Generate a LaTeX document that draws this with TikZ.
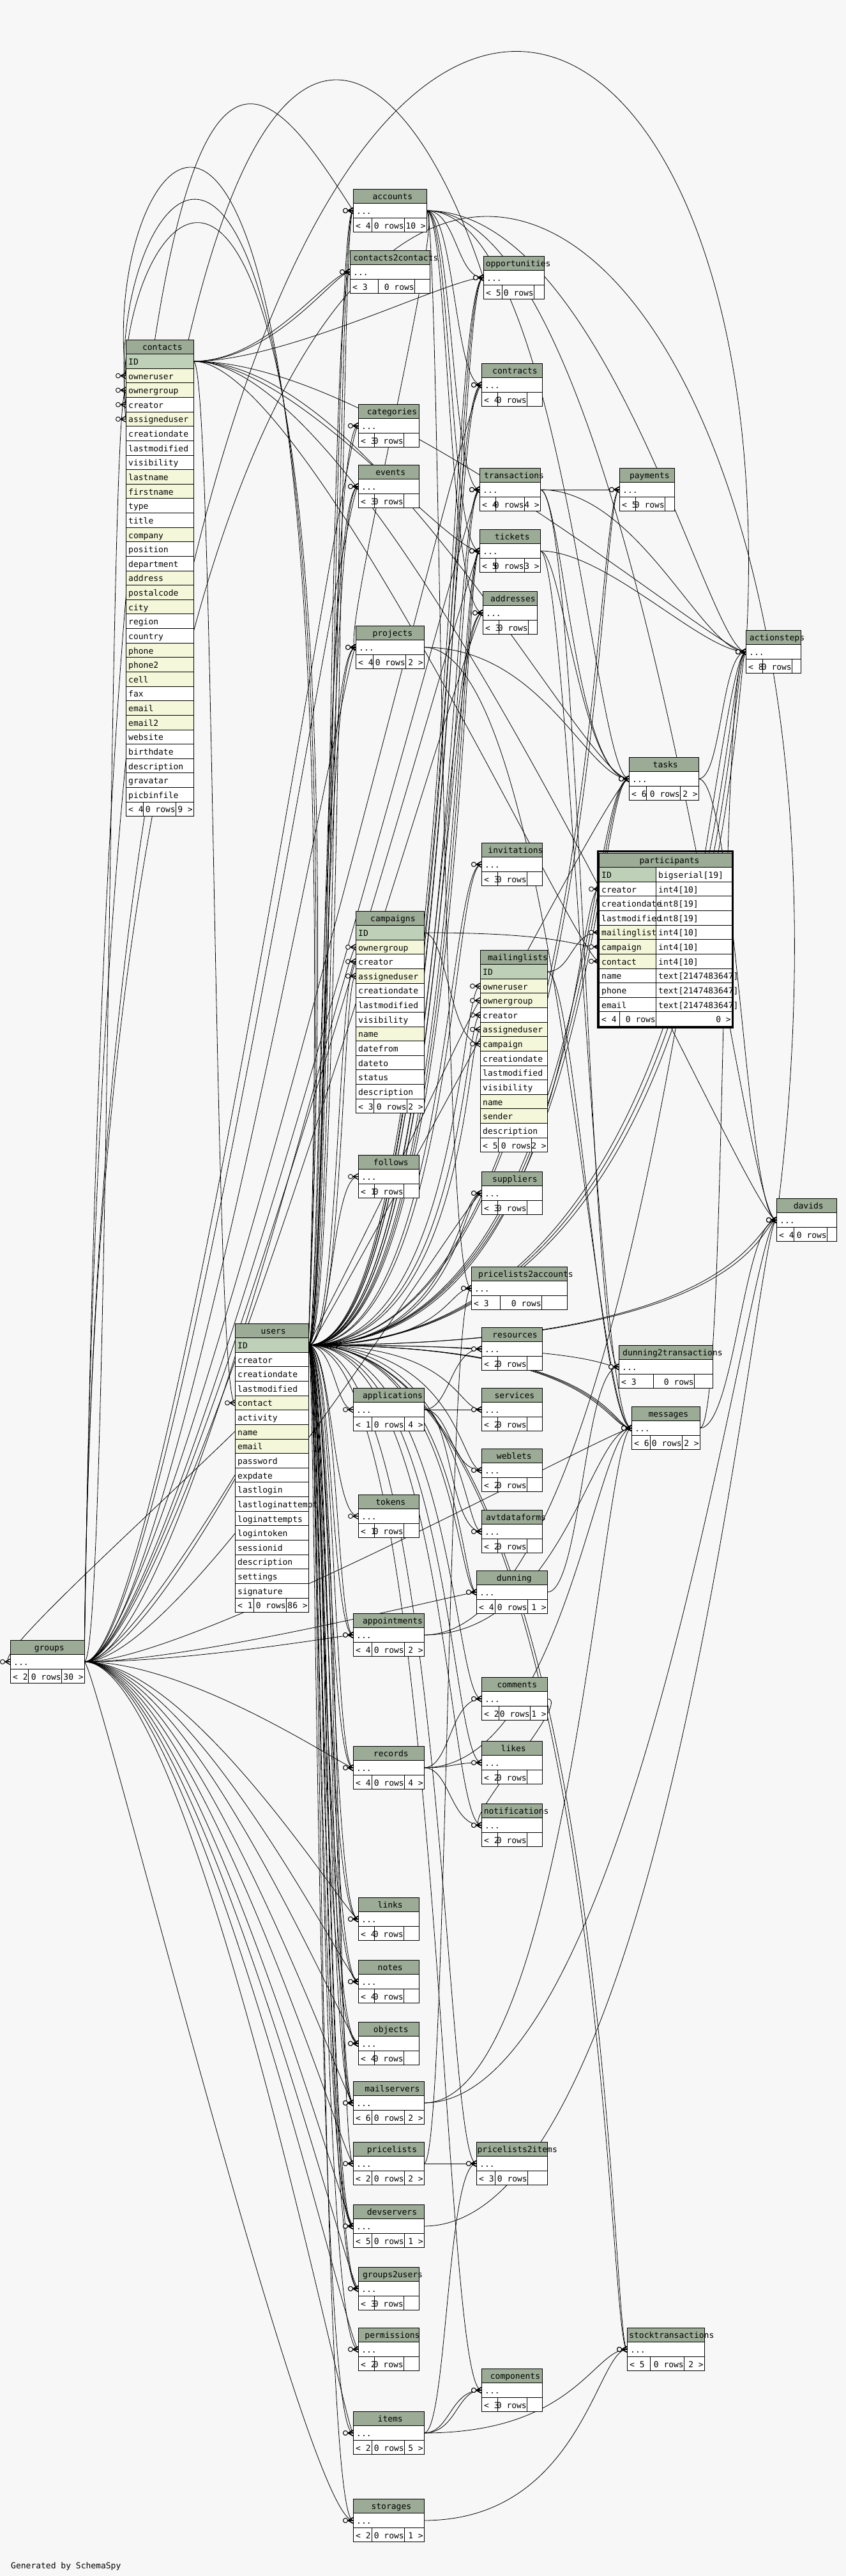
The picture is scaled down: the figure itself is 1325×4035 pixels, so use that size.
\documentclass[tikz,border=0pt]{standalone}
\usepackage{fontspec}
\setmonofont{DejaVu Sans Mono}
\usepackage{tikz}

\definecolor{hdr}{HTML}{9BAB96}
\definecolor{pkey}{HTML}{BED1B8}
\definecolor{idx}{HTML}{F4F7DA}
\definecolor{bg}{HTML}{F7F7F7}

\pgfdeclarelayer{back}
\pgfdeclarelayer{wires}
\pgfsetlayers{back,wires,main}

\newcommand{\tabfont}{\ttfamily\fontsize{13}{15}\selectfont}

% title row
\newcommand{\tabhead}[5]{%
  \def\tabw{#4}%
  \node[cellbox,fill=hdr,minimum width=#4] (#1-t) at (#2,#3) {};
  \node[celltxt,anchor=base] (#1-tt) at ([yshift=-16.8pt]#1-t.north) {\makebox[0.86\width][l]{#5}};}

% column row below #1-#2
\newcommand{\colrow}[4]{%
  \node[cellbox,fill=#4,minimum width=\tabw] (#1-#3) at (#1-#2.south west) {};
  \node[celltxt] (#1-#3-l) at ([shift={(4pt,-16.8pt)}]#1-#3.north west) {#3};}

% footer: table, row above, left, right, splits
\newcommand{\tabfoot}[6]{%
  \pgfmathsetmacro\fwa{#5}\pgfmathsetmacro\fwb{#6-#5}\pgfmathsetmacro\fwc{\tabw-#6}%
  \node[cellbox,fill=white,minimum width=\fwa] (#1-f1) at (#2.south west) {};
  \node[cellbox,fill=white,minimum width=\fwb] (#1-f2) at (#1-f1.north east) {};
  \node[cellbox,fill=white,minimum width=\fwc] (#1-f3) at (#1-f2.north east) {};
  \node[celltxt] (#1-n1) at ([shift={(4pt,-16.8pt)}]#1-f1.north west) {#3};
  \node[celltxt,anchor=base east] (#1-n2) at ([shift={(0pt,-16.8pt)}]#1-f2.north east) {0 rows};
  \node[celltxt,anchor=base east] (#1-n3) at ([shift={(-1pt,-16.8pt)}]#1-f3.north east) {#4};}

% collapsed table: name, x, y, width, left, right, splits
\newcommand{\smalltab}[8]{%
  \tabhead{#1}{#2}{#3}{#4}{#1}%
  \node[cellbox,fill=white,minimum width=#4] (#1) at (#1-t.south west) {};
  \node[celltxt] (#1-l) at ([shift={(5pt,-16.8pt)}]#1.north west) {...};
  \tabfoot{#1}{#1}{#5}{#6}{#7}{#8}}

% participants row
\newcommand{\partrow}[4]{%
  \node[cellbox,fill=#4,minimum width=89] (participants-#2) at (#1.south west) {};
  \node[cellbox,fill=white,minimum width=119] (participants-#2-r) at (participants-#2.north east) {};
  \node[celltxt] (participants-#2-l) at ([shift={(4pt,-16.8pt)}]participants-#2.north west) {#2};
  \node[celltxt] (participants-#2-y) at ([shift={(4pt,-16.8pt)}]participants-#2-r.north west) {#3};}

% foreign keys
\newcommand{\fkedge}[4]{%
  \draw[fkline] (#1.east) .. controls (#3,0 |- #1.east) and (#4,0 |- #2.west) .. (#2.west);
  \pic at (#2.west) {fkend};}
\newcommand{\fkloop}[4]{%
  \draw[fkline] (#1.east) .. controls (#3) and (#4) .. (#2.west);
  \pic at (#2.west) {fkend};}

\begin{document}
\begin{tikzpicture}[x=1pt,y=-1pt,
  fkend/.pic={\draw[line width=1.3pt,line join=round] (0,-4.5) -- (-8,0) -- (0,4.5) (-8,0) -- (0,0);
              \draw[line width=0.9pt,fill=bg] (-12,0) circle[radius=3.5pt];}]
  \tikzstyle{cellbox}=[draw,line width=1pt,inner sep=0pt,outer sep=0pt,anchor=north west,minimum height=22.63]
  \tikzstyle{celltxt}=[font=\tabfont,inner sep=0pt,anchor=base west]
  \tikzstyle{fkline}=[line width=0.8pt]
  \useasboundingbox (0,0) rectangle (1325,4035);
  \begin{pgfonlayer}{back}
    \fill[bg] (0,0) rectangle (1325,4035);
  \end{pgfonlayer}

  % contacts
  \tabhead{contacts}{197}{532}{106}{contacts}
  \colrow{contacts}{t}{ID}{pkey}
  \colrow{contacts}{ID}{owneruser}{idx}
  \colrow{contacts}{owneruser}{ownergroup}{idx}
  \colrow{contacts}{ownergroup}{creator}{white}
  \colrow{contacts}{creator}{assigneduser}{idx}
  \colrow{contacts}{assigneduser}{creationdate}{white}
  \colrow{contacts}{creationdate}{lastmodified}{white}
  \colrow{contacts}{lastmodified}{visibility}{white}
  \colrow{contacts}{visibility}{lastname}{idx}
  \colrow{contacts}{lastname}{firstname}{idx}
  \colrow{contacts}{firstname}{type}{white}
  \colrow{contacts}{type}{title}{white}
  \colrow{contacts}{title}{company}{idx}
  \colrow{contacts}{company}{position}{white}
  \colrow{contacts}{position}{department}{white}
  \colrow{contacts}{department}{address}{idx}
  \colrow{contacts}{address}{postalcode}{idx}
  \colrow{contacts}{postalcode}{city}{idx}
  \colrow{contacts}{city}{region}{white}
  \colrow{contacts}{region}{country}{white}
  \colrow{contacts}{country}{phone}{idx}
  \colrow{contacts}{phone}{phone2}{idx}
  \colrow{contacts}{phone2}{cell}{idx}
  \colrow{contacts}{cell}{fax}{white}
  \colrow{contacts}{fax}{email}{idx}
  \colrow{contacts}{email}{email2}{idx}
  \colrow{contacts}{email2}{website}{white}
  \colrow{contacts}{website}{birthdate}{white}
  \colrow{contacts}{birthdate}{description}{white}
  \colrow{contacts}{description}{gravatar}{white}
  \colrow{contacts}{gravatar}{picbinfile}{white}
  \tabfoot{contacts}{contacts-picbinfile}{< 4}{9 >}{27}{78}

  % users
  \tabhead{users}{368}{2073}{115}{users}
  \colrow{users}{t}{ID}{pkey}
  \colrow{users}{ID}{creator}{white}
  \colrow{users}{creator}{creationdate}{white}
  \colrow{users}{creationdate}{lastmodified}{white}
  \colrow{users}{lastmodified}{contact}{idx}
  \colrow{users}{contact}{activity}{white}
  \colrow{users}{activity}{name}{idx}
  \colrow{users}{name}{email}{idx}
  \colrow{users}{email}{password}{white}
  \colrow{users}{password}{expdate}{white}
  \colrow{users}{expdate}{lastlogin}{white}
  \colrow{users}{lastlogin}{lastloginattempt}{white}
  \colrow{users}{lastloginattempt}{loginattempts}{white}
  \colrow{users}{loginattempts}{logintoken}{white}
  \colrow{users}{logintoken}{sessionid}{white}
  \colrow{users}{sessionid}{description}{white}
  \colrow{users}{description}{settings}{white}
  \colrow{users}{settings}{signature}{white}
  \tabfoot{users}{users-signature}{< 1}{86 >}{29}{80}

  % campaigns
  \tabhead{campaigns}{557}{1427}{107}{campaigns}
  \colrow{campaigns}{t}{ID}{pkey}
  \colrow{campaigns}{ID}{ownergroup}{idx}
  \colrow{campaigns}{ownergroup}{creator}{white}
  \colrow{campaigns}{creator}{assigneduser}{idx}
  \colrow{campaigns}{assigneduser}{creationdate}{white}
  \colrow{campaigns}{creationdate}{lastmodified}{white}
  \colrow{campaigns}{lastmodified}{visibility}{white}
  \colrow{campaigns}{visibility}{name}{idx}
  \colrow{campaigns}{name}{datefrom}{white}
  \colrow{campaigns}{datefrom}{dateto}{white}
  \colrow{campaigns}{dateto}{status}{white}
  \colrow{campaigns}{status}{description}{white}
  \tabfoot{campaigns}{campaigns-description}{< 3}{2 >}{28}{80}

  % mailinglists
  \tabhead{mailinglists}{752}{1488}{105}{mailinglists}
  \colrow{mailinglists}{t}{ID}{pkey}
  \colrow{mailinglists}{ID}{owneruser}{idx}
  \colrow{mailinglists}{owneruser}{ownergroup}{idx}
  \colrow{mailinglists}{ownergroup}{creator}{white}
  \colrow{mailinglists}{creator}{assigneduser}{idx}
  \colrow{mailinglists}{assigneduser}{campaign}{idx}
  \colrow{mailinglists}{campaign}{creationdate}{white}
  \colrow{mailinglists}{creationdate}{lastmodified}{white}
  \colrow{mailinglists}{lastmodified}{visibility}{white}
  \colrow{mailinglists}{visibility}{name}{idx}
  \colrow{mailinglists}{name}{sender}{idx}
  \colrow{mailinglists}{sender}{description}{white}
  \tabfoot{mailinglists}{mailinglists-description}{< 5}{2 >}{28}{80}

  % participants
  \tabhead{participants}{938}{1336}{208}{participants}
  \partrow{participants-t}{ID}{bigserial[19]}{pkey}
  \partrow{participants-ID}{creator}{int4[10]}{white}
  \partrow{participants-creator}{creationdate}{int8[19]}{white}
  \partrow{participants-creationdate}{lastmodified}{int8[19]}{white}
  \partrow{participants-lastmodified}{mailinglist}{int4[10]}{idx}
  \partrow{participants-mailinglist}{campaign}{int4[10]}{idx}
  \partrow{participants-campaign}{contact}{int4[10]}{idx}
  \partrow{participants-contact}{name}{text[2147483647]}{white}
  \partrow{participants-name}{phone}{text[2147483647]}{white}
  \partrow{participants-phone}{email}{text[2147483647]}{white}
  \tabfoot{participants}{participants-email}{< 4}{0 >}{32}{89}
  \draw[line width=3pt] (936.5,1333.5) rectangle (1147.5,1609);

  % collapsed tables
  \smalltab{accounts}{553}{296}{115}{< 4}{10 >}{29}{80}
  \smalltab{contacts2contacts}{548}{392}{125}{< 3}{}{44}{101}
  \smalltab{opportunities}{757}{401}{95}{< 5}{}{29}{79}
  \smalltab{contracts}{754}{569}{95}{< 4}{}{25}{71}
  \smalltab{categories}{561}{633}{95}{< 3}{}{25}{71}
  \smalltab{events}{561}{728}{95}{< 3}{}{25}{71}
  \smalltab{transactions}{751}{733}{95}{< 4}{4 >}{25}{70}
  \smalltab{payments}{970}{733}{86}{< 5}{}{25}{71}
  \smalltab{tickets}{751}{829}{95}{< 5}{3 >}{25}{70}
  \smalltab{addresses}{756}{926}{85}{< 3}{}{25}{71}
  \smalltab{actionsteps}{1168}{987}{86}{< 8}{}{26}{72}
  \smalltab{projects}{557}{980}{107}{< 4}{2 >}{27}{78}
  \smalltab{tasks}{985}{1186}{109}{< 6}{2 >}{27}{80}
  \smalltab{invitations}{754}{1320}{95}{< 3}{}{25}{71}
  \smalltab{follows}{561}{1809}{95}{< 1}{}{25}{71}
  \smalltab{suppliers}{754}{1835}{95}{< 3}{}{25}{71}
  \smalltab{davids}{1216}{1877}{94}{< 4}{}{27}{79}
  \smalltab{pricelists2accounts}{738}{1984}{150}{< 3}{}{45}{110}
  \smalltab{resources}{754}{2079}{95}{< 2}{}{25}{71}
  \smalltab{dunning2transactions}{969}{2107}{147}{< 3}{}{54}{118}
  \smalltab{applications}{553}{2174}{111}{< 1}{4 >}{29}{80}
  \smalltab{services}{754}{2174}{95}{< 2}{}{25}{71}
  \smalltab{messages}{989}{2203}{107}{< 6}{2 >}{29}{79}
  \smalltab{weblets}{754}{2269}{95}{< 2}{}{25}{71}
  \smalltab{tokens}{561}{2341}{95}{< 1}{}{25}{71}
  \smalltab{avtdataforms}{754}{2365}{95}{< 2}{}{25}{71}
  \smalltab{dunning}{746}{2460}{111}{< 4}{1 >}{29}{80}
  \smalltab{appointments}{553}{2527}{111}{< 4}{2 >}{29}{80}
  \smalltab{groups}{16}{2569}{116}{< 2}{30 >}{28}{80}
  \smalltab{comments}{754}{2627}{103}{< 2}{1 >}{27}{76}
  \smalltab{likes}{754}{2727}{95}{< 2}{}{25}{71}
  \smalltab{records}{553}{2735}{111}{< 4}{4 >}{29}{80}
  \smalltab{notifications}{754}{2825}{95}{< 2}{}{25}{71}
  \smalltab{links}{561}{2972}{95}{< 4}{}{25}{71}
  \smalltab{notes}{561}{3070}{95}{< 4}{}{25}{71}
  \smalltab{objects}{561}{3167}{95}{< 4}{}{25}{71}
  \smalltab{mailservers}{553}{3260}{111}{< 6}{2 >}{29}{80}
  \smalltab{pricelists}{553}{3355}{111}{< 2}{2 >}{29}{80}
  \smalltab{pricelists2items}{746}{3355}{111}{< 3}{}{29}{80}
  \smalltab{devservers}{553}{3453}{111}{< 5}{1 >}{29}{80}
  \smalltab{groups2users}{561}{3551}{95}{< 3}{}{25}{71}
  \smalltab{permissions}{561}{3646}{95}{< 2}{}{25}{71}
  \smalltab{stocktransactions}{982}{3646}{121}{< 5}{2 >}{36}{89}
  \smalltab{components}{754}{3710}{95}{< 3}{}{25}{71}
  \smalltab{items}{553}{3777}{111}{< 2}{5 >}{29}{80}
  \smalltab{storages}{553}{3914}{111}{< 2}{1 >}{29}{80}

  \node[celltxt] (credit) at (17,4023) {Generated by SchemaSpy};

  \begin{pgfonlayer}{wires}
  % users
  \fkedge{users-ID}{accounts}{520}{520}
  \fkedge{users-ID}{accounts}{526}{526}
  \fkedge{users-ID}{accounts}{532}{532}
  \fkedge{users-ID}{contacts2contacts}{515}{515}
  \fkedge{users-ID}{categories}{510}{510}
  \fkedge{users-ID}{events}{505}{505}
  \fkedge{users-ID}{events}{512}{512}
  \fkedge{users-ID}{projects}{500}{500}
  \fkedge{users-ID}{projects}{507}{507}
  \fkedge{users-ID}{campaigns-creator}{530}{530}
  \fkedge{users-ID}{campaigns-assigneduser}{536}{536}
  \fkedge{users-ID}{follows}{520}{520}
  \fkedge{users-ID}{applications}{525}{525}
  \fkedge{users-ID}{tokens}{520}{520}
  \fkedge{users-ID}{appointments}{520}{520}
  \fkedge{users-ID}{appointments}{528}{528}
  \fkedge{users-ID}{records}{515}{515}
  \fkedge{users-ID}{records}{523}{523}
  \fkedge{users-ID}{links}{510}{510}
  \fkedge{users-ID}{links}{518}{518}
  \fkedge{users-ID}{notes}{505}{505}
  \fkedge{users-ID}{notes}{513}{513}
  \fkedge{users-ID}{objects}{500}{500}
  \fkedge{users-ID}{objects}{508}{508}
  \fkedge{users-ID}{mailservers}{512}{512}
  \fkedge{users-ID}{mailservers}{518}{518}
  \fkedge{users-ID}{mailservers}{524}{524}
  \fkedge{users-ID}{pricelists}{530}{530}
  \fkedge{users-ID}{devservers}{500}{500}
  \fkedge{users-ID}{devservers}{506}{506}
  \fkedge{users-ID}{devservers}{512}{512}
  \fkedge{users-ID}{groups2users}{505}{505}
  \fkedge{users-ID}{groups2users}{511}{511}
  \fkedge{users-ID}{permissions}{500}{500}
  \fkedge{users-ID}{items}{495}{495}
  \fkedge{users-ID}{storages}{500}{500}
  \fkedge{users-ID}{opportunities}{700}{700}
  \fkedge{users-ID}{opportunities}{706}{706}
  \fkedge{users-ID}{opportunities}{712}{712}
  \fkedge{users-ID}{contracts}{695}{695}
  \fkedge{users-ID}{contracts}{702}{702}
  \fkedge{users-ID}{transactions}{705}{705}
  \fkedge{users-ID}{transactions}{712}{712}
  \fkedge{users-ID}{tickets}{715}{715}
  \fkedge{users-ID}{tickets}{720}{720}
  \fkedge{users-ID}{tickets}{725}{725}
  \fkedge{users-ID}{addresses}{690}{690}
  \fkedge{users-ID}{addresses}{697}{697}
  \fkedge{users-ID}{invitations}{700}{700}
  \fkedge{users-ID}{invitations}{708}{708}
  \fkedge{users-ID}{mailinglists-owneruser}{720}{720}
  \fkedge{users-ID}{mailinglists-creator}{726}{726}
  \fkedge{users-ID}{mailinglists-assigneduser}{732}{732}
  \fkedge{users-ID}{suppliers}{715}{715}
  \fkedge{users-ID}{suppliers}{722}{722}
  \fkedge{users-ID}{pricelists2accounts}{700}{700}
  \fkedge{users-ID}{resources}{710}{710}
  \fkedge{users-ID}{services}{715}{715}
  \fkedge{users-ID}{weblets}{720}{720}
  \fkedge{users-ID}{avtdataforms}{725}{725}
  \fkedge{users-ID}{dunning}{715}{715}
  \fkedge{users-ID}{dunning}{722}{722}
  \fkedge{users-ID}{comments}{710}{710}
  \fkedge{users-ID}{likes}{705}{705}
  \fkedge{users-ID}{notifications}{700}{700}
  \fkedge{users-ID}{pricelists2items}{695}{695}
  \fkedge{users-ID}{components}{690}{690}
  \fkedge{users-ID}{payments}{930}{930}
  \fkedge{users-ID}{payments}{936}{936}
  \fkedge{users-ID}{tasks}{920}{920}
  \fkedge{users-ID}{tasks}{926}{926}
  \fkedge{users-ID}{tasks}{932}{932}
  \fkedge{users-ID}{participants-creator}{900}{900}
  \fkedge{users-ID}{dunning2transactions}{940}{940}
  \fkedge{users-ID}{messages}{945}{945}
  \fkedge{users-ID}{messages}{950}{950}
  \fkedge{users-ID}{messages}{955}{955}
  \fkedge{users-ID}{stocktransactions}{950}{950}
  \fkedge{users-ID}{stocktransactions}{956}{956}
  \fkedge{users-ID}{actionsteps}{1130}{1130}
  \fkedge{users-ID}{actionsteps}{1140}{1140}
  \fkedge{users-ID}{actionsteps}{1150}{1150}
  \fkedge{users-ID}{davids}{1180}{1180}
  \fkedge{users-ID}{davids}{1190}{1190}
  \fkloop{users-ID}{contacts-owneruser}{560,-300}{150,200}
  \fkloop{users-ID}{contacts-creator}{570,-250}{155,260}
  \fkloop{users-ID}{contacts-assigneduser}{580,-200}{160,300}
  \fkedge{users-ID}{groups}{540}{-40}
  % groups
  \fkloop{groups}{accounts}{175,-250}{380,60}
  \fkloop{groups}{opportunities}{170,-350}{600,-50}
  \fkloop{groups}{actionsteps}{165,-600}{1250,-300}
  \fkloop{groups}{davids}{160,-700}{1450,100}
  \fkedge{groups}{contacts-ownergroup}{170}{170}
  \fkedge{groups}{contracts}{265}{728}
  \fkedge{groups}{categories}{255}{538}
  \fkedge{groups}{events}{258}{540}
  \fkedge{groups}{projects}{262}{542}
  \fkedge{groups}{transactions}{270}{732}
  \fkedge{groups}{tickets}{270}{735}
  \fkedge{groups}{addresses}{272}{736}
  \fkedge{groups}{tasks}{275}{945}
  \fkedge{groups}{campaigns-ownergroup}{280}{540}
  \fkedge{groups}{mailinglists-ownergroup}{285}{738}
  \fkedge{groups}{suppliers}{290}{735}
  \fkedge{groups}{messages}{300}{960}
  \fkedge{groups}{dunning}{300}{730}
  \fkedge{groups}{appointments}{300}{540}
  \fkedge{groups}{records}{300}{540}
  \fkedge{groups}{links}{300}{545}
  \fkedge{groups}{notes}{300}{545}
  \fkedge{groups}{objects}{300}{545}
  \fkedge{groups}{mailservers}{300}{540}
  \fkedge{groups}{pricelists}{300}{540}
  \fkedge{groups}{devservers}{300}{540}
  \fkedge{groups}{groups2users}{300}{545}
  \fkedge{groups}{permissions}{300}{545}
  \fkedge{groups}{items}{300}{540}
  \fkedge{groups}{storages}{150}{480}
  % contacts
  \fkedge{contacts-ID}{contacts2contacts}{420}{515}
  \fkedge{contacts-ID}{contacts2contacts}{430}{525}
  \fkedge{contacts-ID}{users-contact}{335}{335}
  \fkedge{contacts-ID}{participants-contact}{480}{905}
  \fkedge{contacts-ID}{opportunities}{450}{705}
  \fkedge{contacts-ID}{tickets}{460}{700}
  \fkedge{contacts-ID}{actionsteps}{600}{1120}
  \fkedge{contacts-ID}{tasks}{590}{915}
  \fkedge{contacts-ID}{davids}{610}{1170}
  % accounts
  \fkedge{accounts}{opportunities}{715}{715}
  \fkedge{accounts}{contracts}{712}{712}
  \fkedge{accounts}{transactions}{708}{708}
  \fkedge{accounts}{tickets}{705}{705}
  \fkedge{accounts}{addresses}{702}{702}
  \fkedge{accounts}{actionsteps}{950}{1110}
  \fkedge{accounts}{tasks}{880}{930}
  \fkedge{accounts}{pricelists2accounts}{690}{690}
  \fkedge{accounts}{davids}{1000}{1160}
  \fkedge{accounts}{projects}{700}{530}
  % the rest
  \fkedge{transactions}{payments}{900}{900}
  \fkedge{transactions}{actionsteps}{1000}{1100}
  \fkedge{transactions}{dunning2transactions}{905}{925}
  \fkedge{transactions}{tasks}{880}{900}
  \fkedge{tickets}{actionsteps}{950}{1100}
  \fkedge{tickets}{tasks}{880}{910}
  \fkedge{tickets}{messages}{890}{935}
  \fkedge{projects}{tasks}{850}{920}
  \fkedge{projects}{messages}{870}{930}
  \fkedge{tasks}{actionsteps}{1130}{1130}
  \fkedge{tasks}{davids}{1150}{1170}
  \fkedge{campaigns-ID}{mailinglists-campaign}{700}{705}
  \fkedge{campaigns-ID}{participants-campaign}{880}{900}
  \fkedge{mailinglists-ID}{participants-mailinglist}{895}{895}
  \fkedge{mailinglists-ID}{messages}{900}{940}
  \fkedge{applications}{resources}{705}{705}
  \fkedge{applications}{services}{705}{705}
  \fkedge{applications}{weblets}{705}{705}
  \fkedge{applications}{avtdataforms}{705}{705}
  \fkedge{messages}{davids}{1150}{1165}
  \fkedge{messages}{actionsteps}{1140}{1125}
  \fkedge{dunning}{dunning2transactions}{910}{915}
  \fkedge{appointments}{messages}{880}{925}
  \fkedge{appointments}{actionsteps}{1000}{1120}
  \fkedge{comments}{notifications}{900}{715}
  \fkedge{records}{comments}{705}{705}
  \fkedge{records}{likes}{710}{710}
  \fkedge{records}{notifications}{705}{705}
  \fkedge{records}{messages}{880}{935}
  \fkedge{mailservers}{davids}{1000}{1175}
  \fkedge{mailservers}{messages}{890}{945}
  \fkedge{pricelists}{pricelists2accounts}{700}{700}
  \fkedge{pricelists}{pricelists2items}{705}{705}
  \fkedge{devservers}{davids}{1050}{1185}
  \fkedge{items}{components}{705}{705}
  \fkedge{items}{components}{715}{715}
  \fkedge{items}{stocktransactions}{900}{930}
  \fkedge{items}{pricelists2items}{700}{700}
  \fkedge{storages}{stocktransactions}{910}{935}
  \end{pgfonlayer}
\end{tikzpicture}
\end{document}
